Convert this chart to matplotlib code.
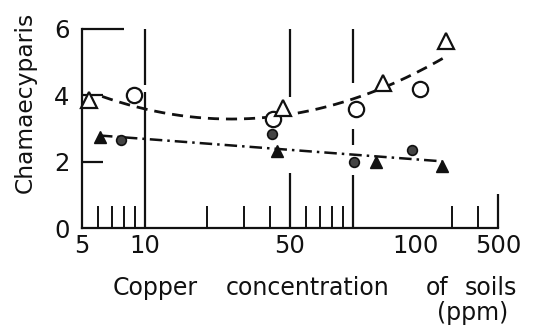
import numpy as np
import matplotlib
matplotlib.use("Agg")
import matplotlib.pyplot as plt

plt.rcParams['font.family'] = ['DejaVu Sans']

# --- data ---
open_circle_x = [8.9, 41.5, 104, 210]
open_circle_y = [4.0, 3.28, 3.6, 4.2]
open_tri_x = [5.4, 46.5, 140, 281]
open_tri_y = [3.85, 3.63, 4.38, 5.65]
filled_circle_x = [7.7, 41, 101, 194]
filled_circle_y = [2.65, 2.83, 2.0, 2.35]
filled_tri_x = [6.1, 43.5, 129, 269]
filled_tri_y = [2.75, 2.33, 1.98, 1.88]

y_ticks = [0, 2, 4, 6]
x_label_pos = [5, 10, 50, 200, 500]
x_label_txt = ['5', '10', '50', '100', '500']
x_minor = [6, 7, 8, 9, 20, 30, 40, 60, 70, 80, 90, 200, 300, 400]

W, H = 533, 336
INK = '#111111'
fig = plt.figure(figsize=(W / 100, H / 100), dpi=100)
ax = fig.add_axes([82 / W, 1 - 228 / H, (498 - 82) / W, (228 - 29) / H])
ax.set_xscale('log')
ax.set_xlim(5, 500)
ax.set_ylim(0, 6)

for s in ['top', 'right']:
    ax.spines[s].set_visible(False)
for s in ['left', 'bottom']:
    ax.spines[s].set_linewidth(1.6)
    ax.spines[s].set_color(INK)

# vertical guide lines (broken where curves pass)
ax.vlines([10, 10], [0, 4.3], [4.1, 6], color=INK, lw=1.6)
ax.vlines([50, 50], [0, 3.95], [1.66, 6], color=INK, lw=1.6)
ax.vlines([100, 100, 100], [0, 2.5, 4.37], [1.6, 3.0, 6], color=INK, lw=1.6)
ax.vlines([500], [0], [1.02], color=INK, lw=1.6, clip_on=False)

# fitted curves
ox = np.array(open_circle_x + open_tri_x)
oy = np.array(open_circle_y + open_tri_y)
p2 = np.polyfit(np.log10(ox), oy, 2)
xs = np.logspace(np.log10(6.25), np.log10(281), 200)
ax.plot(xs, np.polyval(p2, np.log10(xs)), color=INK, lw=2, dashes=(4, 2.5))

fx = np.array(filled_circle_x + filled_tri_x)
fy = np.array(filled_circle_y + filled_tri_y)
p1 = np.polyfit(np.log10(fx), fy, 1)
xl = np.logspace(np.log10(min(filled_tri_x)), np.log10(max(filled_tri_x)), 100)
ax.plot(xl, np.polyval(p1, np.log10(xl)), color=INK, lw=1.8,
        dashes=(5, 2, 1, 2))

# markers
ax.plot(open_circle_x, open_circle_y, 'o', ms=11, mfc='white', mec=INK,
        mew=1.6, clip_on=False, zorder=5)
ax.plot(open_tri_x, open_tri_y, '^', ms=12, mfc='white', mec=INK,
        mew=1.6, clip_on=False, zorder=5)
ax.plot(filled_circle_x, filled_circle_y, 'o', ms=7, mfc='#444444',
        mec=INK, mew=1.2, clip_on=False, zorder=5)
ax.plot(filled_tri_x, filled_tri_y, '^', ms=8, mfc=INK,
        mec=INK, mew=1, clip_on=False, zorder=5)

# ticks
ax.set_yticks(y_ticks)
ax.tick_params(axis='y', direction='in', length=15, width=1.6, labelsize=17.5,
               pad=9, color=INK, labelcolor=INK)
yt = ax.yaxis.get_major_ticks()
yt[0].tick1line.set_visible(False)
yt[-1].tick1line.set_markersize(30)

ax.set_xticks(x_label_pos)
ax.set_xticklabels(x_label_txt)
ax.set_xticks(x_minor, minor=True)
ax.xaxis.set_minor_formatter(matplotlib.ticker.NullFormatter())
ax.tick_params(axis='x', which='major', length=0, labelsize=17.5, pad=4,
               labelcolor=INK)
ax.tick_params(axis='x', which='minor', direction='in', length=16, width=1.4,
               color=INK)

# labels
fig.text(25 / W, 1 - 102 / H, 'Chamaecyparis', rotation=90, fontsize=16.8,
         ha='center', va='center', color=INK)
fig.text(113 / W, 1 - 288 / H, 'Copper', fontsize=17, ha='left', va='center',
         color=INK)
fig.text(308 / W, 1 - 288 / H, 'concentration', fontsize=17, ha='center',
         va='center', color=INK)
fig.text(437 / W, 1 - 288 / H, 'of', fontsize=17, ha='center', va='center',
         color=INK)
fig.text(491 / W, 1 - 288 / H, 'soils', fontsize=17, ha='center', va='center',
         color=INK)
fig.text(473 / W, 1 - 313 / H, '(ppm)', fontsize=17, ha='center',
         va='center', color=INK)

fig.savefig('out.png', dpi=100)
